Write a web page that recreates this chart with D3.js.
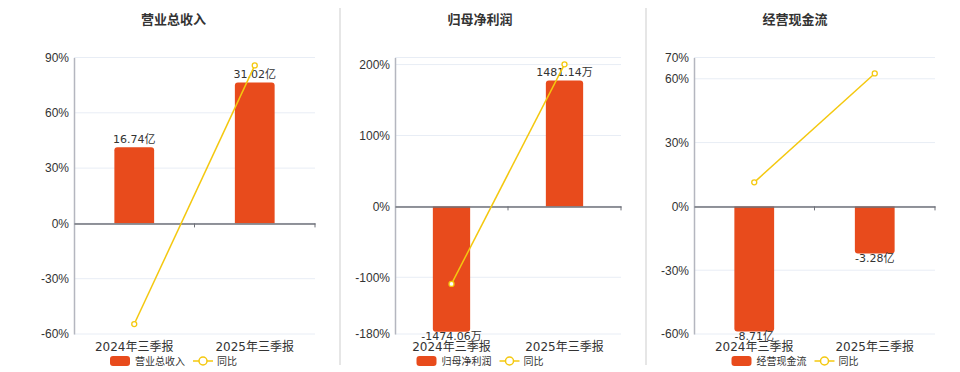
<!DOCTYPE html>
<html>
<head>
<meta charset="utf-8">
<style>
  body { margin: 0; background: #fff; }
  svg { display: block; }
</style>
</head>
<body>
<svg width="960" height="372" font-family="'DejaVu Sans', 'Noto Sans CJK SC', sans-serif"></svg>

<script src="https://d3js.org/d3.v7.min.js"></script>

<script>
var categories = ["2024年三季报", "2025年三季报"];
var titles = ["营业总收入", "归母净利润", "经营现金流"];

// bar values (亿 / 万 / 亿) and year-on-year %
var revenue = [16.74, 31.02];
var revenueYoY = [-54.6, 85.7];
var netProfit = [-1474.06, 1481.14];
var netProfitYoY = [-109.4, 200.4];
var cashFlow = [-8.71, -3.28];
var cashFlowYoY = [11.3, 62.5];

var units = ["亿", "万", "亿"];

// left (%) axis domains and ticks
var pctDomains = [[-60, 90], [-180, 210], [-60, 70]];
var pctTicks = [[-60, -30, 0, 30, 60, 90], [-180, -100, 0, 100, 200], [-60, -30, 0, 30, 60, 70]];
// hidden bar axis, zero aligned with the % axis
var barDomains = [[-24.35, 36.5], [-1501, 1752], [-8.88, 10.36]];

var panels = [
  {title: titles[0], bars: revenue, yoy: revenueYoY, x0: 74, x1: 315, cx: 173.5},
  {title: titles[1], bars: netProfit, yoy: netProfitYoY, x0: 395, x1: 621, cx: 480},
  {title: titles[2], bars: cashFlow, yoy: cashFlowYoY, x0: 694, x1: 935, cx: 795}
];

var barColor = "#e84b1c",
    lineColor = "#f4c80f",
    plotTop = 57.5, plotBottom = 334;

var svg = d3.select("svg");

// separators
[340, 646].forEach(function(x) {
  svg.append("line")
    .attr("x1", x).attr("x2", x).attr("y1", 8).attr("y2", 365)
    .attr("stroke", "#d6d6d6").attr("stroke-width", 1.2);
});

function barPath(x, w, y0, y1, r) {
  // rounded at the end away from zero
  var h = Math.abs(y1 - y0);
  r = Math.min(r, h);
  if (y1 < y0) {
    return "M" + x + "," + y0 + "V" + (y1 + r) + "Q" + x + "," + y1 + " " + (x + r) + "," + y1 +
      "H" + (x + w - r) + "Q" + (x + w) + "," + y1 + " " + (x + w) + "," + (y1 + r) + "V" + y0 + "Z";
  }
  return "M" + x + "," + y0 + "V" + (y1 - r) + "Q" + x + "," + y1 + " " + (x + r) + "," + y1 +
    "H" + (x + w - r) + "Q" + (x + w) + "," + y1 + " " + (x + w) + "," + (y1 - r) + "V" + y0 + "Z";
}

panels.forEach(function(p, i) {
  var g = svg.append("g");

  var x = d3.scaleBand().domain(categories).range([p.x0, p.x1]);
  var y = d3.scaleLinear().domain(pctDomains[i]).range([plotBottom, plotTop]);
  var yb = d3.scaleLinear().domain(barDomains[i]).range([plotBottom, plotTop]);
  var bw = x.bandwidth() * 0.33;

  // title
  g.append("text")
    .attr("x", p.cx).attr("y", 24)
    .attr("text-anchor", "middle")
    .attr("font-size", 13).attr("font-weight", "bold")
    .attr("fill", "#333")
    .text(p.title);

  // grid
  var grid = pctTicks[i].concat([pctDomains[i][1]]);
  g.selectAll(".grid").data(grid).enter().append("line")
    .attr("x1", p.x0).attr("x2", p.x1)
    .attr("y1", function(d) { return y(d); })
    .attr("y2", function(d) { return y(d); })
    .attr("stroke", "#e8edf5").attr("stroke-width", 1);

  // y axis
  var yAxis = g.append("g")
    .attr("transform", "translate(" + p.x0 + ",0)")
    .call(d3.axisLeft(y).tickValues(pctTicks[i]).tickSize(0).tickPadding(5)
      .tickFormat(function(d) { return d + "%"; }));
  yAxis.select(".domain").attr("stroke", "#b4b6bf").attr("stroke-width", 1.5);
  yAxis.selectAll("text").attr("font-size", 12).attr("fill", "#333").attr("font-family", null);

  // bars
  g.selectAll(".bar").data(p.bars).enter().append("path")
    .attr("d", function(d, j) {
      return barPath(x(categories[j]) + (x.bandwidth() - bw) / 2, bw, yb(0), yb(d), 3);
    })
    .attr("fill", barColor);

  // bar labels
  g.selectAll(".lbl").data(p.bars).enter().append("text")
    .attr("x", function(d, j) { return x(categories[j]) + x.bandwidth() / 2; })
    .attr("y", function(d) { return d >= 0 ? yb(d) - 4.5 : yb(d) + 8; })
    .attr("text-anchor", "middle")
    .attr("font-size", 11).attr("fill", "#333")
    .text(function(d) { return d.toFixed(2) + units[i]; });

  // x axis at zero
  var xAxis = g.append("g")
    .attr("transform", "translate(0," + y(0) + ")")
    .call(d3.axisBottom(x).tickSize(0).tickFormat(""));
  xAxis.select(".domain").attr("stroke", "#6e7079").attr("stroke-width", 1.5);
  g.selectAll(".xtick").data([p.x0 + x.bandwidth(), p.x1]).enter().append("line")
    .attr("x1", function(d) { return d; }).attr("x2", function(d) { return d; })
    .attr("y1", y(0)).attr("y2", y(0) + 4)
    .attr("stroke", "#6e7079").attr("stroke-width", 1);

  // category labels
  g.selectAll(".cat").data(categories).enter().append("text")
    .attr("x", function(d) { return x(d) + x.bandwidth() / 2; })
    .attr("y", 351)
    .attr("text-anchor", "middle")
    .attr("font-size", 12).attr("fill", "#333")
    .text(function(d) { return d; });

  // yoy line
  var line = d3.line()
    .x(function(d, j) { return x(categories[j]) + x.bandwidth() / 2; })
    .y(function(d) { return y(d); });
  g.append("path").datum(p.yoy)
    .attr("d", line)
    .attr("fill", "none").attr("stroke", lineColor).attr("stroke-width", 1.5);
  g.selectAll(".pt").data(p.yoy).enter().append("circle")
    .attr("cx", function(d, j) { return x(categories[j]) + x.bandwidth() / 2; })
    .attr("cy", function(d) { return y(d); })
    .attr("r", 2.5)
    .attr("fill", "#fff").attr("stroke", lineColor).attr("stroke-width", 1.3);

  // legend
  var lg = g.append("g").attr("transform", "translate(" + p.cx + ",361)");
  lg.append("rect")
    .attr("x", -63.5).attr("y", -5).attr("width", 20).attr("height", 10).attr("rx", 3)
    .attr("fill", barColor);
  lg.append("text")
    .attr("x", -38.5).attr("y", 4)
    .attr("font-size", 10).attr("fill", "#333")
    .text(p.title);
  lg.append("line")
    .attr("x1", 19.5).attr("x2", 39.5).attr("y1", 0).attr("y2", 0)
    .attr("stroke", lineColor).attr("stroke-width", 1.5);
  lg.append("circle")
    .attr("cx", 29.5).attr("cy", 0).attr("r", 4)
    .attr("fill", "#fff").attr("stroke", lineColor).attr("stroke-width", 1.5);
  lg.append("text")
    .attr("x", 43.5).attr("y", 4)
    .attr("font-size", 10).attr("fill", "#333")
    .text("同比");
});
</script>
</body>
</html>
